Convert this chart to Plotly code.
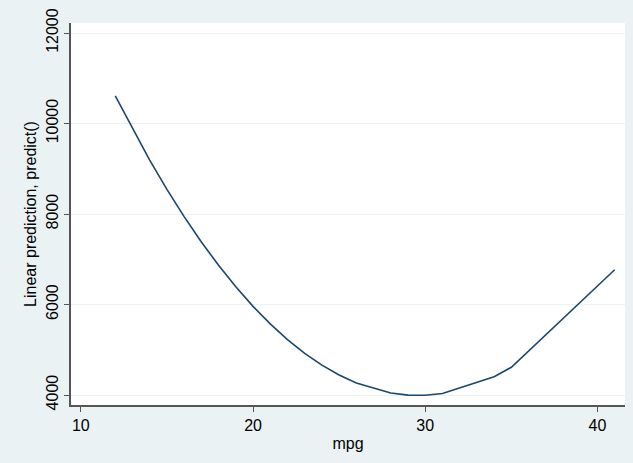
import plotly.graph_objects as go

mpg = [12, 14, 15, 16, 17, 18, 19, 20, 21, 22, 23, 24, 25, 26, 28, 29, 30, 31, 34, 35, 41]
pred = [10608, 9191, 8545, 7943, 7383, 6866, 6391, 5959, 5571, 5224, 4921, 4660,
        4442, 4267, 4045, 3998, 3993, 4032, 4404, 4613, 6767]
xticks = [10, 20, 30, 40]
yticks = [4000, 6000, 8000, 10000, 12000]

BG = "#EAF2F3"
FONT = "Liberation Sans, Arial, sans-serif"
AX = "#555555"

fig = go.Figure()
fig.add_trace(go.Scatter(x=mpg, y=pred, mode="lines",
                         line=dict(color="#1A476F", width=1.6),
                         showlegend=False, hoverinfo="skip"))

fig.update_layout(
    width=633, height=463,
    paper_bgcolor=BG, plot_bgcolor="white",
    margin=dict(l=71, r=8, t=23, b=58),
    font=dict(family=FONT, size=16, color="#000000"),
)
fig.update_xaxes(
    range=[9.43, 41.6], tickvals=xticks, ticktext=[str(v) for v in xticks],
    showgrid=False, zeroline=False,
    showline=True, linecolor=AX, linewidth=1.5,
    ticks="outside", ticklen=5, tickcolor=AX,
    title=dict(text="mpg", font=dict(size=16), standoff=5),
)
fig.update_yaxes(
    range=[3779, 12221], tickvals=yticks, ticktext=[str(v) for v in yticks],
    tickangle=-90,
    showgrid=True, gridcolor=BG, gridwidth=1, zeroline=False,
    showline=True, linecolor=AX, linewidth=1.5,
    ticks="outside", ticklen=5, tickcolor=AX,
    title=dict(text="Linear prediction, predict()", font=dict(size=16), standoff=3),
)

fig.write_html("out.html")
